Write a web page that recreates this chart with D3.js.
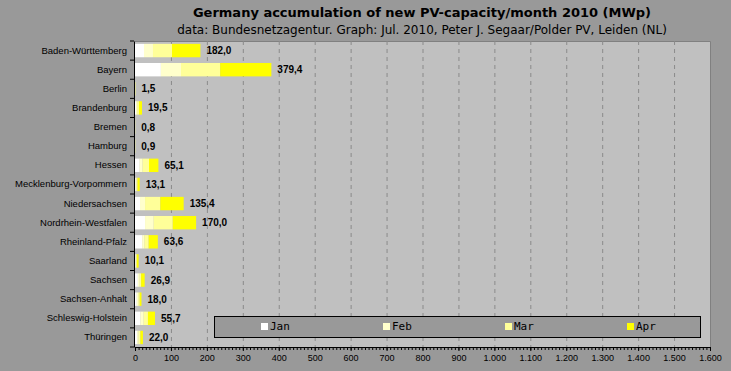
<html>
<head>
    <meta charset="utf-8">
    <title>Germany PV capacity 2010</title>
    <script src="https://cdn.jsdelivr.net/npm/d3@7"></script>
    <style>
        body { margin: 0; background: #999999; }
    </style>
</head>
<body>
    <svg id="chart" width="731" height="371"></svg>

    <script>
    // data (MWp per month)
    const states = ["Baden-Württemberg", "Bayern", "Berlin", "Brandenburg", "Bremen", "Hamburg", "Hessen",
        "Mecklenburg-Vorpommern", "Niedersachsen", "Nordrhein-Westfalen", "Rheinland-Pfalz", "Saarland",
        "Sachsen", "Sachsen-Anhalt", "Schleswig-Holstein", "Thüringen"];
    const months = ["Jan", "Feb", "Mar", "Apr"];
    const jan = [25, 72, 0.3, 3, 0.2, 0.2, 13, 2, 14, 28, 20, 1.5, 8, 5, 15, 6];
    const feb = [25, 56, 0.3, 3, 0.2, 0.2, 8, 2, 14, 24, 6, 1.5, 5, 4, 9, 4];
    const mar = [53, 109, 0.4, 5, 0.2, 0.2, 18, 3, 42.4, 53, 12, 2, 4, 4, 12, 5];
    const apr = [79, 142.4, 0.5, 8.5, 0.2, 0.3, 26.1, 6.1, 65, 65, 25.6, 5.1, 9.9, 5, 19.7, 7];
    const totals = [182.0, 379.4, 1.5, 19.5, 0.8, 0.9, 65.1, 13.1, 135.4, 170.0, 63.6, 10.1, 26.9, 18.0, 55.7, 22.0];
    const xTicks = d3.range(0, 1601, 100);
    const colors = ["#ffffff", "#ffffcc", "#ffff99", "#ffff00"];

    const svg = d3.select('#chart');
    const W = 731, H = 371;
    const mLeft = 135, mRight = 710, mTop = 41, mBottom = 347;

    svg.append('rect').attr('width', W).attr('height', H).attr('fill', '#999999');

    // titles
    svg.append('text')
        .attr('x', 422).attr('y', 17)
        .attr('text-anchor', 'middle')
        .style('font', 'bold 13px "DejaVu Sans"')
        .text('Germany accumulation of new PV-capacity/month 2010 (MWp)');
    svg.append('text')
        .attr('x', 422).attr('y', 34)
        .attr('text-anchor', 'middle')
        .style('font', '12px "DejaVu Sans"')
        .text('data: Bundesnetzagentur. Graph: Jul. 2010, Peter J. Segaar/Polder PV, Leiden (NL)');

    const x = d3.scaleLinear().domain([0, 1600]).range([mLeft, mRight]);
    const y = d3.scaleBand().domain(states).range([mTop, mBottom]).paddingInner(0.3).paddingOuter(0.15);

    // plot background
    svg.append('rect')
        .attr('x', mLeft).attr('y', mTop)
        .attr('width', mRight - mLeft).attr('height', mBottom - mTop)
        .attr('fill', '#c0c0c0');
    svg.append('path')
        .attr('d', `M${mLeft},${mTop + 0.5}H${mRight + 0.5}V${mBottom}`)
        .attr('fill', 'none').attr('stroke', '#808080');

    // gridlines
    svg.append('g').selectAll('line')
        .data(xTicks.slice(1, -1))
        .enter().append('line')
        .attr('x1', d => x(d) + 0.5).attr('x2', d => x(d) + 0.5)
        .attr('y1', mTop).attr('y2', mBottom)
        .attr('stroke', '#8a8a8a')
        .attr('stroke-dasharray', '4,4');

    // stacked bars
    const rows = states.map((s, i) => ({ state: s, Jan: jan[i], Feb: feb[i], Mar: mar[i], Apr: apr[i] }));
    const stack = d3.stack().keys(months)(rows);

    svg.append('g').selectAll('g')
        .data(stack)
        .enter().append('g')
        .attr('fill', (d, i) => colors[i])
        .selectAll('rect')
        .data(d => d)
        .enter().append('rect')
        .attr('x', d => x(d[0]))
        .attr('y', d => y(d.data.state))
        .attr('width', d => x(d[1]) - x(d[0]))
        .attr('height', y.bandwidth());

    // value labels
    const fmt = d => d.toFixed(1).replace('.', ',');
    svg.append('g').selectAll('text')
        .data(states)
        .enter().append('text')
        .attr('x', (d, i) => x(totals[i]) + 6)
        .attr('y', d => y(d) + y.bandwidth() / 2)
        .attr('dy', '0.35em')
        .style('font', 'bold 10px "Liberation Sans"')
        .text((d, i) => fmt(totals[i]));

    // y axis
    const yAxis = svg.append('g')
        .attr('transform', `translate(${mLeft - 1},0)`)
        .call(d3.axisLeft(y).tickSize(0).tickPadding(7));
    yAxis.select('.domain').attr('stroke', '#000');
    yAxis.selectAll('text').style('font', '9.5px "Liberation Sans"').attr('fill', '#000');
    // band boundary ticks
    const step = (mBottom - mTop) / states.length;
    svg.append('g').selectAll('line')
        .data(d3.range(states.length + 1))
        .enter().append('line')
        .attr('x1', mLeft - 5).attr('x2', mLeft - 1)
        .attr('y1', d => mTop + d * step).attr('y2', d => mTop + d * step)
        .attr('stroke', '#000');

    // x axis
    const thousands = d3.formatLocale({ decimal: ',', thousands: '.', grouping: [3], currency: ['', ''] }).format(',');
    const xAxis = svg.append('g')
        .attr('transform', `translate(0,${mBottom})`)
        .call(d3.axisBottom(x).tickValues(xTicks).tickFormat(thousands).tickSize(4).tickPadding(4));
    xAxis.select('.domain').attr('stroke', '#000');
    xAxis.selectAll('text').style('font', '9px "Liberation Sans"').attr('fill', '#000');
    svg.append('g')
        .attr('transform', `translate(0,${mBottom})`)
        .selectAll('line')
        .data(d3.range(0, 1601, 10))
        .enter().append('line')
        .attr('x1', d => x(d) + 0.5).attr('x2', d => x(d) + 0.5)
        .attr('y1', 0).attr('y2', 3)
        .attr('stroke', '#000');

    // legend
    const legend = svg.append('g');
    legend.append('rect')
        .attr('x', 214.5).attr('y', 316.5)
        .attr('width', 486).attr('height', 21)
        .attr('fill', '#999999').attr('stroke', '#000');
    const items = legend.selectAll('g.item')
        .data(months)
        .enter().append('g')
        .attr('class', 'item')
        .attr('transform', (d, i) => `translate(${261 + i * 122},323)`);
    items.append('rect')
        .attr('width', 7).attr('height', 7)
        .attr('fill', (d, i) => colors[i]);
    items.append('text')
        .attr('x', 9).attr('y', 3.5).attr('dy', '0.35em')
        .style('font', '11px "DejaVu Sans Mono"')
        .text(d => d);
    </script>
</body>
</html>
